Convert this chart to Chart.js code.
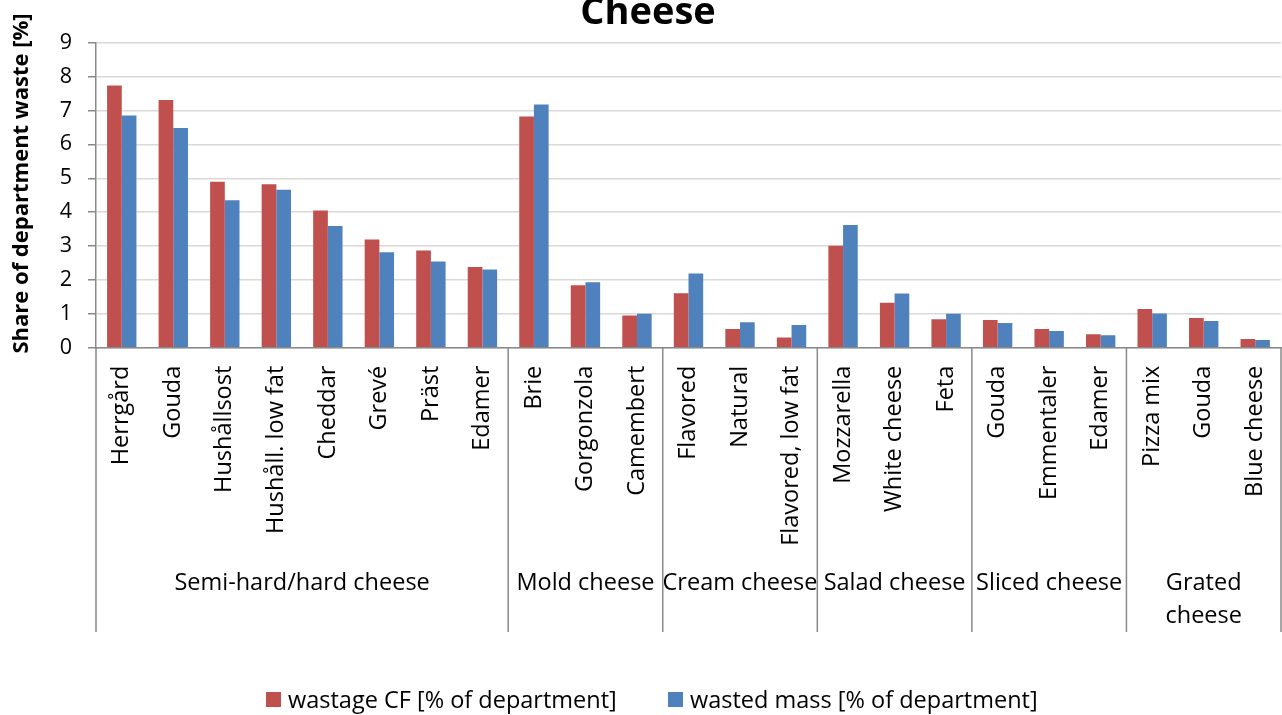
<!DOCTYPE html>
<html>
<head>
<meta charset="utf-8">
<script src="https://cdn.jsdelivr.net/npm/chart.js@4.4.1/dist/chart.umd.min.js"></script>
<style>
  html, body { margin: 0; padding: 0; background: #fff; }
  #wrap { width: 1282px; height: 715px; }
</style>
</head>
<body>
<div id="wrap"><canvas id="grafico" width="1282" height="715"></canvas></div>
<script>
// Datos
const categorias = [
  "Herrgård", "Gouda", "Hushållsost", "Hushåll. low fat", "Cheddar", "Grevé", "Präst", "Edamer",
  "Brie", "Gorgonzola", "Camembert",
  "Flavored", "Natural", "Flavored, low fat",
  "Mozzarella", "White cheese", "Feta",
  "Gouda", "Emmentaler", "Edamer",
  "Pizza mix", "Gouda", "Blue cheese"
];
const grupos = ["Semi-hard/hard cheese", "Mold cheese", "Cream cheese", "Salad cheese", "Sliced cheese", "Grated\ncheese"];
const tamanoGrupos = [8, 3, 3, 3, 3, 3];
const wastageCF = [7.74, 7.31, 4.90, 4.82, 4.05, 3.19, 2.87, 2.38, 6.82, 1.84, 0.95, 1.61, 0.55, 0.30, 3.01, 1.33, 0.84, 0.82, 0.55, 0.40, 1.14, 0.88, 0.26];
const wastedMass = [6.85, 6.48, 4.35, 4.66, 3.59, 2.82, 2.54, 2.31, 7.18, 1.93, 1.00, 2.19, 0.75, 0.67, 3.62, 1.60, 1.00, 0.73, 0.49, 0.37, 1.01, 0.79, 0.23];
const ejeY = { min: 0, max: 9, paso: 1 };

const FUENTE = "'Open Sans'";
const TAM = 23.5;      // etiquetas de categorías, grupos y leyenda
const TAM_EJE = 21.5;  // números del eje Y
const GRIS_EJE = "#898989";

// Separadores y nombres de grupos bajo el eje X
const pluginGrupos = {
  id: "grupos",
  afterDraw(chart) {
    const { ctx, chartArea, scales: { x } } = chart;
    const fondo = 632;
    const bordes = [chartArea.left];
    let idx = 0;
    tamanoGrupos.forEach(n => {
      idx += n;
      bordes.push(idx >= categorias.length
        ? chartArea.right
        : (x.getPixelForValue(idx - 1) + x.getPixelForValue(idx)) / 2);
    });
    ctx.save();
    ctx.strokeStyle = GRIS_EJE;
    ctx.lineWidth = 1.5;
    bordes.forEach(b => {
      ctx.beginPath();
      ctx.moveTo(b, chartArea.bottom);
      ctx.lineTo(b, fondo);
      ctx.stroke();
    });
    ctx.fillStyle = "#000";
    ctx.font = `${TAM}px ${FUENTE}`;
    ctx.textAlign = "center";
    ctx.textBaseline = "middle";
    grupos.forEach((g, i) => {
      const cx = (bordes[i] + bordes[i + 1]) / 2;
      g.split("\n").forEach((t, j) => ctx.fillText(t, cx, 583 + j * 33));
    });
    ctx.restore();
  }
};

// Título (recortado arriba como en el original), título del eje Y y leyenda
const pluginTextos = {
  id: "textos",
  afterDraw(chart) {
    const { ctx } = chart;
    ctx.save();
    ctx.fillStyle = "#000";
    ctx.font = `bold 38px ${FUENTE}`;
    ctx.textAlign = "center";
    ctx.textBaseline = "alphabetic";
    ctx.fillText("Cheese", 648, 24);

    ctx.save();
    ctx.translate(22, 183.5);
    ctx.rotate(-Math.PI / 2);
    ctx.font = `bold 22px ${FUENTE}`;
    ctx.textBaseline = "middle";
    ctx.fillText("Share of department waste [%]", 0, 0);
    ctx.restore();

    const posiciones = [266, 668];
    ctx.font = `${TAM}px ${FUENTE}`;
    ctx.textAlign = "left";
    ctx.textBaseline = "middle";
    chart.data.datasets.forEach((ds, i) => {
      const x0 = posiciones[i];
      ctx.fillStyle = ds.backgroundColor;
      ctx.fillRect(x0, 692, 15, 15);
      ctx.fillStyle = "#000";
      ctx.fillText(ds.label, x0 + 22, 701);
    });
    ctx.restore();
  }
};

const ctx = document.getElementById("grafico").getContext("2d");
new Chart(ctx, {
  type: "bar",
  data: {
    labels: categorias,
    datasets: [
      { label: "wastage CF [% of department]", data: wastageCF, backgroundColor: "#C0504D" },
      { label: "wasted mass [% of department]", data: wastedMass, backgroundColor: "#4F81BD" }
    ]
  },
  options: {
    responsive: false,
    animation: false,
    devicePixelRatio: 1,
    layout: { padding: { top: 42.7, right: 1, bottom: 0, left: 0 } },
    datasets: { bar: { categoryPercentage: 0.57, barPercentage: 1.0 } },
    plugins: {
      legend: { display: false },
      title: { display: false },
      tooltip: { enabled: false }
    },
    scales: {
      x: {
        grid: { display: false },
        border: { display: true, color: GRIS_EJE, width: 1.5 },
        ticks: {
          autoSkip: false,
          minRotation: 90,
          maxRotation: 90,
          padding: 10,
          color: "#000",
          font: { family: FUENTE, size: TAM }
        },
        afterFit(scale) {
          scale.height = 367.3;
          scale.paddingLeft = 0;
          scale.paddingRight = 0;
        }
      },
      y: {
        min: ejeY.min,
        max: ejeY.max,
        ticks: {
          stepSize: ejeY.paso,
          padding: 16,
          color: "#000",
          font: { family: FUENTE, size: TAM_EJE }
        },
        grid: { color: "#D9D9D9", lineWidth: 1.5, tickLength: 8, tickColor: GRIS_EJE },
        border: { display: true, color: GRIS_EJE, width: 1.5 },
        afterFit(scale) {
          scale.width = 96;
          scale.paddingTop = 0;
          scale.paddingBottom = 0;
        }
      }
    }
  },
  plugins: [pluginGrupos, pluginTextos]
});
</script>
</body>
</html>
